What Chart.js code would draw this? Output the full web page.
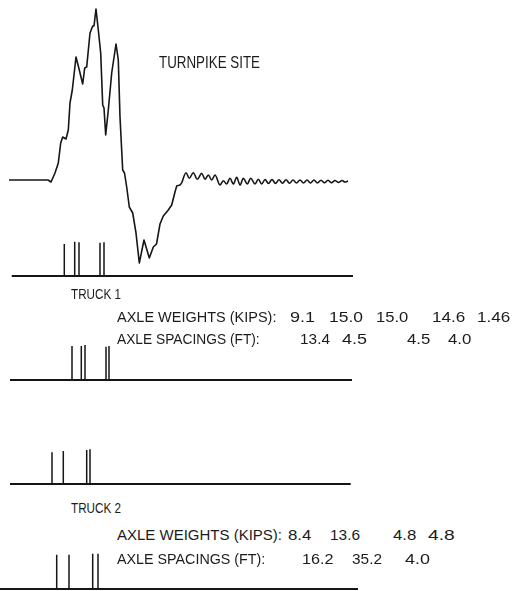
<!DOCTYPE html>
<html>
<head>
<meta charset="utf-8">
<script src="https://cdn.jsdelivr.net/npm/chart.js@4"></script>
<style>
  html, body { margin: 0; padding: 0; background: #fff; overflow: hidden; }
  body { width: 513px; height: 591px; position: relative; }
  canvas { position: absolute; left: 0; }
  .lbl {
    position: absolute; white-space: nowrap; line-height: 1;
    font-family: "Liberation Sans", "DejaVu Sans", sans-serif;
    color: #1c1c1c; transform-origin: 0 0; z-index: 2;
  }
</style>
</head>
<body>
<canvas id="wave"   width="513" height="280" style="top:0px"></canvas>
<canvas id="axles1" width="513" height="45"  style="top:236px"></canvas>
<canvas id="axles2" width="513" height="45"  style="top:340px"></canvas>
<canvas id="axles3" width="513" height="45"  style="top:444px"></canvas>
<canvas id="axles4" width="513" height="45"  style="top:549px"></canvas>

<script>
// ---- Strain record at the site (time in s, response in arbitrary units) ----
const waveTime = [
  0.09, 0.30, 0.48, 0.51, 0.55, 0.583, 0.607, 0.627, 0.66, 0.683,
  0.70, 0.723, 0.76, 0.793, 0.827, 0.847, 0.867, 0.90, 0.927, 0.94,
  0.96, 0.983, 1.007, 1.027, 1.04, 1.057, 1.083, 1.117, 1.16, 1.183,
  1.20, 1.227, 1.245, 1.267, 1.293, 1.327, 1.36, 1.393, 1.44, 1.493,
  1.533, 1.565, 1.60, 1.633, 1.683, 1.717, 1.75, 1.767, 1.80, 1.817,
  1.86, 1.893, 1.933, 1.973, 2.017, 2.05, 2.083, 2.117, 2.15, 2.20,
  2.233, 2.267, 2.30, 2.333, 2.367, 2.40, 2.433, 2.473, 2.507, 2.55,
  2.583, 2.617, 2.65, 2.685, 2.72, 2.755, 2.79, 2.825, 2.86, 2.895,
  2.93, 2.965, 3.00, 3.035, 3.07, 3.105, 3.14, 3.175, 3.21, 3.245,
  3.28, 3.315, 3.35, 3.385, 3.42, 3.45, 3.48
];
const waveResponse = [
  0, 0, 0, -0.2, 0.7, 1.7, 3.7, 4.3, 4.1, 5.0,
  7.7, 9.0, 12.3, 11.0, 9.6, 11.2, 11.3, 14.7, 15.4, 15.4,
  17.1, 15.0, 12.7, 7.5, 7.2, 4.5, 7.0, 10.7, 13.6, 12.0,
  6.3, 1.0, 0.7, -0.7, -2.7, -3.3, -5.3, -8.3, -6.0, -7.8,
  -6.7, -6.4, -4.4, -3.6, -3.0, -2.5, -1.2, -0.6, -0.5, -0.3,
  0.73, 0.17, 0.73, 0.07, 0.67, 0.07, 0.5, 0.0, 0.5, -0.5,
  -0.07, -0.4, 0.17, -0.4, 0.27, -0.5, 0.17, -0.4, 0.17, -0.4,
  0.07, -0.4, 0.05, -0.35, 0.05, -0.35, 0.02, -0.32, 0.02, -0.32,
  0, -0.3, 0, -0.3, 0, -0.3, 0, -0.3, -0.02, -0.28,
  -0.02, -0.28, -0.05, -0.25, -0.05, -0.2, -0.1
];
// after this time the record settles into a free vibration
const freeVibrationStart = 1.817;

// ---- Axle detector traces (arrival time in s, relative pulse height) ----
const truck1SensorATimes   = [0.643, 0.747, 0.79, 1.00, 1.04];
const truck1SensorAHeights = [0.94, 1.01, 0.99, 0.98, 0.99];
const truck1SensorBTimes   = [0.72, 0.813, 0.85, 1.06, 1.09];
const truck1SensorBHeights = [1.0, 1.0, 1.03, 0.98, 1.0];
const truck2SensorATimes   = [0.52, 0.633, 0.867, 0.90];
const truck2SensorAHeights = [0.93, 0.97, 1.0, 1.02];
const truck2SensorBTimes   = [0.567, 0.69, 0.927, 0.98];
const truck2SensorBHeights = [1.01, 1.01, 1.04, 1.04];
// time span covered by each trace's zero line
const truck1SensorASpan = [0.117, 3.53];
const truck1SensorBSpan = [0.10, 3.52];
const truck2SensorASpan = [0.10, 3.507];
const truck2SensorBSpan = [0.0, 3.58];

// ---- Texts ----
const siteName = 'TURNPIKE SITE';
const truckNames = ['TRUCK 1', 'TRUCK 2'];
const weightsCaption = 'AXLE WEIGHTS (KIPS):';
const spacingsCaption = 'AXLE SPACINGS (FT):';
const truck1Weights  = ['9.1', '15.0', '15.0', '14.6', '1.46'];
const truck1Spacings = ['13.4', '4.5', '4.5', '4.0'];
const truck2Weights  = ['8.4', '13.6', '4.8', '4.8'];
const truck2Spacings = ['16.2', '35.2', '4.0'];

// ---- Chart helpers ----
const INK = '#161616';
const TIME_MIN = 0, TIME_MAX = 5.13;

function baseOptions(yMin, yMax) {
  return {
    responsive: false,
    animation: false,
    events: [],
    layout: { padding: 0 },
    plugins: { legend: { display: false }, tooltip: { enabled: false } },
    scales: {
      x: { type: 'linear', display: false, min: TIME_MIN, max: TIME_MAX },
      y: { type: 'linear', display: false, min: yMin, max: yMax }
    }
  };
}

const wavePoints = waveTime.map((t, i) => ({ x: t, y: waveResponse[i] }));
new Chart(document.getElementById('wave'), {
  type: 'line',
  data: {
    datasets: [
      { // forced response while the axles cross: straight pen strokes
        data: wavePoints.filter(p => p.x <= freeVibrationStart),
        borderColor: INK, borderWidth: 1.6, pointRadius: 0, tension: 0,
        borderJoinStyle: 'round', fill: false },
      { // decaying free vibration: smooth curve
        data: wavePoints.filter(p => p.x >= freeVibrationStart),
        borderColor: INK, borderWidth: 1.6, pointRadius: 0,
        cubicInterpolationMode: 'monotone', fill: false }
    ]
  },
  options: baseOptions(-10, 18)
});

function axleChart(id, times, heights, span) {
  const pulses = [];
  times.forEach((t, i) => {
    pulses.push({ x: t, y: 0 }, { x: t, y: heights[i] }, { x: t, y: null });
  });
  new Chart(document.getElementById(id), {
    type: 'line',
    data: {
      datasets: [
        { data: pulses, borderColor: INK, borderWidth: 1.5, pointRadius: 0,
          tension: 0, spanGaps: false, fill: false },
        { data: [{ x: span[0], y: 0 }, { x: span[1], y: 0 }],
          borderColor: INK, borderWidth: 1.8, pointRadius: 0, fill: false }
      ]
    },
    options: baseOptions(-0.147, 1.176)
  });
}
axleChart('axles1', truck1SensorATimes, truck1SensorAHeights, truck1SensorASpan);
axleChart('axles2', truck1SensorBTimes, truck1SensorBHeights, truck1SensorBSpan);
axleChart('axles3', truck2SensorATimes, truck2SensorAHeights, truck2SensorASpan);
axleChart('axles4', truck2SensorBTimes, truck2SensorBHeights, truck2SensorBSpan);

// ---- Annotation text, each piece fitted between its left and right edge ----
function putText(text, left, right, cy, size) {
  const el = document.createElement('div');
  el.className = 'lbl';
  el.textContent = text;
  el.style.fontSize = size + 'px';
  el.style.left = left + 'px';
  el.style.top = (cy - 0.482 * size) + 'px';
  document.body.appendChild(el);
  const w = el.getBoundingClientRect().width;
  if (w > 0) el.style.transform = 'scaleX(' + ((right - left) / w).toFixed(4) + ')';
}
function putRow(values, edges, cy, size) {
  values.forEach((v, i) => putText(v, edges[i][0], edges[i][1], cy, size));
}

putText(siteName, 159, 260, 62, 16.5);

putText(truckNames[0], 71, 121, 293, 15.5);
putText(weightsCaption, 117.3, 276.7, 317, 14.5);
putRow(truck1Weights, [[290, 315], [329.3, 363.3], [376, 408.3], [431.7, 465], [476.7, 510]], 317, 14.5);
putText(spacingsCaption, 117.3, 260, 339, 14.5);
putRow(truck1Spacings, [[300, 330], [341.7, 366.7], [406.7, 430], [448.3, 471.7]], 339, 14.5);

putText(truckNames[1], 71, 121, 507, 15.5);
putText(weightsCaption, 116.7, 281.7, 535, 14.5);
putRow(truck2Weights, [[288.3, 311.7], [330, 360], [393.3, 416.7], [428.3, 455]], 535, 14.5);
putText(spacingsCaption, 116.7, 265, 559, 14.5);
putRow(truck2Spacings, [[301.7, 333.3], [351.7, 381.7], [405, 430]], 559, 14.5);
</script>
</body>
</html>
